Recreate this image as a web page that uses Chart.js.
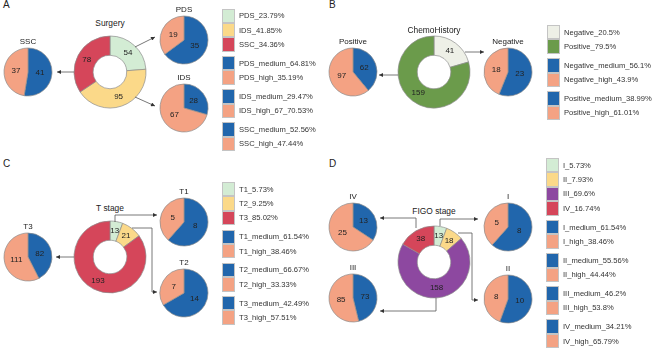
<!DOCTYPE html>
<html>
<head>
<meta charset="utf-8">
<script src="https://cdn.jsdelivr.net/npm/chart.js@4.4.1/dist/chart.umd.min.js"></script>
<style>
  body { margin: 0; background: #fff; overflow: hidden; font-family: "Liberation Sans", Arial, sans-serif; }
  #page { position: relative; width: 654px; height: 349px; }
  canvas { position: absolute; }
  .lbl { position: absolute; transform: translate(-50%, -50%); white-space: nowrap; color: #222; line-height: 1; }
  .panel { position: absolute; font-size: 10px; line-height: 10px; color: #222; }
  .legend { position: absolute; font-size: 7.6px; color: #333; }
  .row { display: flex; align-items: center; height: 14.4px; white-space: nowrap; }
  .box { width: 13px; height: 14.4px; border: 0.6px solid #c4c4c4; box-sizing: border-box; margin-right: 4px; }
  .gap { height: 4.4px; }
  svg { position: absolute; left: 0; top: 0; }
</style>
</head>
<body>
<div id="page">
  <div class="panel" style="left:3px;top:0px">A</div>
  <div class="panel" style="left:329px;top:0px">B</div>
  <div class="panel" style="left:3px;top:159px">C</div>
  <div class="panel" style="left:329px;top:159px">D</div>
</div>
<script>
// Panel A - Surgery
const surgeryGroups = ['PDS', 'IDS', 'SSC'];
const surgeryCounts = [54, 95, 78];
const surgeryMedium = [35, 28, 41];
const surgeryHigh = [19, 67, 37];
const surgeryLegendTop = ['PDS_23.79%', 'IDS_41.85%', 'SSC_34.36%'];
const surgeryLegendSub = ['PDS_medium_64.81%', 'PDS_high_35.19%', 'IDS_medium_29.47%', 'IDS_high_67_70.53%', 'SSC_medium_52.56%', 'SSC_high_47.44%'];

// Panel B - ChemoHistory
const chemoGroups = ['Negative', 'Positive'];
const chemoCounts = [41, 159];
const chemoMedium = [23, 62];
const chemoHigh = [18, 97];
const chemoLegendTop = ['Negative_20.5%', 'Positive_79.5%'];
const chemoLegendSub = ['Negative_medium_56.1%', 'Negative_high_43.9%', 'Positive_medium_38.99%', 'Positive_high_61.01%'];

// Panel C - T stage
const tGroups = ['T1', 'T2', 'T3'];
const tCounts = [13, 21, 193];
const tMedium = [8, 14, 82];
const tHigh = [5, 7, 111];
const tLegendTop = ['T1_5.73%', 'T2_9.25%', 'T3_85.02%'];
const tLegendSub = ['T1_medium_61.54%', 'T1_high_38.46%', 'T2_medium_66.67%', 'T2_high_33.33%', 'T3_medium_42.49%', 'T3_high_57.51%'];

// Panel D - FIGO stage
const figoGroups = ['I', 'II', 'III', 'IV'];
const figoCounts = [13, 18, 158, 38];
const figoMedium = [8, 10, 73, 13];
const figoHigh = [5, 8, 85, 25];
const figoLegendTop = ['I_5.73%', 'II_7.93%', 'III_69.6%', 'IV_16.74%'];
const figoLegendSub = ['I_medium_61.54%', 'I_high_38.46%', 'II_medium_55.56%', 'II_high_44.44%', 'III_medium_46.2%', 'III_high_53.8%', 'IV_medium_34.21%', 'IV_high_65.79%'];

// colours
const cMint = '#d3ecd4', cYellow = '#fbd989', cRed = '#d5465a', cPurple = '#8d48a0';
const cNeg = '#eef0e7', cPos = '#6b9b4b';
const cMedium = '#2166ac', cHigh = '#f4a283';

const page = document.getElementById('page');

// writes the count in the middle of every slice
const valueLabels = {
    id: 'valueLabels',
    afterDatasetsDraw(chart) {
        const ctx = chart.ctx;
        const vals = chart.data.datasets[0].data;
        ctx.save();
        ctx.font = '8px "Liberation Sans", Arial, sans-serif';
        ctx.fillStyle = '#222';
        ctx.textAlign = 'center';
        ctx.textBaseline = 'middle';
        chart.getDatasetMeta(0).data.forEach((arc, i) => {
            const p = arc.tooltipPosition();
            ctx.fillText(vals[i], p.x, p.y);
        });
        ctx.restore();
    }
};

function addText(text, x, y, size) {
    const d = document.createElement('div');
    d.className = 'lbl';
    d.style.left = x + 'px';
    d.style.top = y + 'px';
    d.style.fontSize = size + 'px';
    d.textContent = text;
    page.appendChild(d);
}

// one pie / donut on its own small canvas
function drawPie(cx, cy, r, cut, values, colors, title, titleY, titleSize) {
    const size = 2 * r + 6;
    const c = document.createElement('canvas');
    c.width = size; c.height = size;
    c.style.width = size + 'px'; c.style.height = size + 'px';
    c.style.left = (cx - size / 2) + 'px';
    c.style.top = (cy - size / 2) + 'px';
    page.appendChild(c);
    new Chart(c, {
        type: 'doughnut',
        data: {
            labels: values.map((v, i) => i),
            datasets: [{ data: values, backgroundColor: colors, borderColor: '#8c8c8c', borderWidth: 0.7 }]
        },
        options: {
            responsive: false,
            devicePixelRatio: 1,
            animation: false,
            radius: r,
            cutout: cut,
            layout: { padding: 0 },
            plugins: { legend: { display: false }, tooltip: { enabled: false } }
        },
        plugins: [valueLabels]
    });
    addText(title, cx, titleY, titleSize);
}

function subPie(cx, cy, medium, high, title) {
    drawPie(cx, cy, 24, 0, [medium, high], [cMedium, cHigh], title, cy - 30, 8);
}

// legend: category block, then one medium/high pair per category
function addLegend(x, y, topLabels, topColors, subLabels) {
    const lg = document.createElement('div');
    lg.className = 'legend';
    lg.style.left = x + 'px';
    lg.style.top = y + 'px';
    let html = '';
    topLabels.forEach((t, i) => {
        html += `<div class="row"><div class="box" style="background:${topColors[i]}"></div>${t}</div>`;
    });
    subLabels.forEach((t, i) => {
        if (i % 2 === 0) html += '<div class="gap"></div>';
        const col = i % 2 === 0 ? cMedium : cHigh;
        html += `<div class="row"><div class="box" style="background:${col}"></div>${t}</div>`;
    });
    lg.innerHTML = html;
    page.appendChild(lg);
}

// Panel A
drawPie(110, 72, 36, 18, surgeryCounts, [cMint, cYellow, cRed], 'Surgery', 23, 8.4);
subPie(184, 40, surgeryMedium[0], surgeryHigh[0], surgeryGroups[0]);
subPie(184, 108, surgeryMedium[1], surgeryHigh[1], surgeryGroups[1]);
subPie(28, 72, surgeryMedium[2], surgeryHigh[2], surgeryGroups[2]);
addLegend(222, 8.5, surgeryLegendTop, [cMint, cYellow, cRed], surgeryLegendSub);

// Panel B
drawPie(434, 72, 36, 18, chemoCounts, [cNeg, cPos], 'ChemoHistory', 30, 8.4);
subPie(508, 72, chemoMedium[0], chemoHigh[0], chemoGroups[0]);
subPie(353, 72, chemoMedium[1], chemoHigh[1], chemoGroups[1]);
addLegend(547, 25, chemoLegendTop, [cNeg, cPos], chemoLegendSub);

// Panel C
drawPie(110, 257, 36, 18, tCounts, [cMint, cYellow, cRed], 'T stage', 208, 8.4);
subPie(184, 222, tMedium[0], tHigh[0], tGroups[0]);
subPie(184, 293, tMedium[1], tHigh[1], tGroups[1]);
subPie(28, 257, tMedium[2], tHigh[2], tGroups[2]);
addLegend(222, 182, tLegendTop, [cMint, cYellow, cRed], tLegendSub);

// Panel D
drawPie(434, 262, 36, 18, figoCounts, [cMint, cYellow, cPurple, cRed], 'FIGO stage', 211, 8.4);
subPie(508, 227, figoMedium[0], figoHigh[0], figoGroups[0]);
subPie(508, 299, figoMedium[1], figoHigh[1], figoGroups[1]);
subPie(353, 298, figoMedium[2], figoHigh[2], figoGroups[2]);
subPie(353, 227, figoMedium[3], figoHigh[3], figoGroups[3]);
addLegend(546, 158, figoLegendTop, [cMint, cYellow, cPurple, cRed], figoLegendSub);

// connector arrows between the rings and their pies
const arrows = [
    [[74, 72], [57, 72]], [[135, 47], [155, 37]], [[135, 97], [155, 106]],
    [[398, 75], [379, 75]], [[465, 52], [484, 52]],
    [[115, 222], [115, 215], [157, 215]], [[132, 228], [152, 228], [152, 292], [157, 292]], [[74, 257], [56, 257]],
    [[416, 228], [416, 218], [380, 218]], [[440, 226], [440, 219], [478, 219]],
    [[458, 233], [472, 233], [472, 300], [478, 300]], [[436, 298], [436, 311], [380, 311]]
];
let svg = '<svg width="654" height="349" xmlns="http://www.w3.org/2000/svg"><defs>' +
    '<marker id="ah" viewBox="0 0 10 10" refX="10" refY="5" markerUnits="userSpaceOnUse" markerWidth="5" markerHeight="4" orient="auto">' +
    '<path d="M0,0 L10,5 L0,10 z" fill="#333"/></marker></defs>';
arrows.forEach(a => {
    svg += `<polyline points="${a.map(p => p.join(',')).join(' ')}" fill="none" stroke="#555" stroke-width="0.8" marker-end="url(#ah)"/>`;
});
svg += '</svg>';
page.insertAdjacentHTML('beforeend', svg);
</script>
</body>
</html>
